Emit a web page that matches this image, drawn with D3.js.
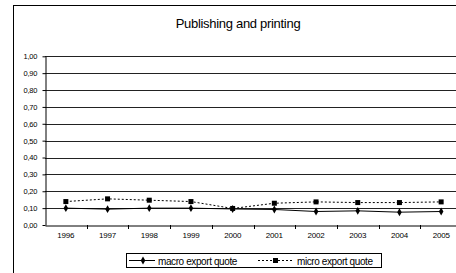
<!DOCTYPE html>
<html>
<head>
<meta charset="utf-8">
<script src="https://cdn.jsdelivr.net/npm/d3@7"></script>
<style>
  body { margin: 0; background: #fff; }
  svg { display: block; font-family: "Liberation Sans", Arial, sans-serif; }
</style>
</head>
<body>
<script>
//chart data
var years = ["1996","1997","1998","1999","2000","2001","2002","2003","2004","2005"];
var macroQuote = [0.100, 0.094, 0.100, 0.100, 0.095, 0.092, 0.080, 0.084, 0.076, 0.080];
var microQuote = [0.139, 0.155, 0.147, 0.139, 0.098, 0.129, 0.137, 0.133, 0.133, 0.137];
var yTicks = [0, 0.1, 0.2, 0.3, 0.4, 0.5, 0.6, 0.7, 0.8, 0.9, 1.0];
var seriesNames = ["macro export quote", "micro export quote"];

(function(){
    var width = 456, height = 273;

    var svg = d3.select("body").append("svg")
        .attr("width", width)
        .attr("height", height);

    //outer chart frame (runs off the right and bottom edge)
    svg.append("rect")
        .attr("x", 13.5).attr("y", 5.5)
        .attr("width", 500).attr("height", 300)
        .attr("fill", "#fff")
        .attr("stroke", "#000");

    //plot area
    var left = 45, right = 462, top = 56.3, bottom = 225;

    var x = d3.scaleBand().domain(years).range([left, right]);
    var y = d3.scaleLinear().domain([0, 1]).range([bottom, top]);

    var fmt = function(d){ return d3.format(".2f")(d).replace(".", ","); };

    //gridlines
    svg.selectAll(".grid")
        .data(yTicks.slice(1))
        .enter().append("line")
        .attr("x1", left).attr("x2", right)
        .attr("y1", function(d){ return Math.round(y(d)) + 0.5; })
        .attr("y2", function(d){ return Math.round(y(d)) + 0.5; })
        .attr("stroke", "#222");

    //y axis
    var yAxis = svg.append("g")
        .attr("transform", "translate(" + (left + 0.5) + ",0)")
        .call(d3.axisLeft(y).tickValues(yTicks).tickFormat(fmt).tickSize(3).tickSizeOuter(0));
    yAxis.selectAll("text").attr("font-size", 7.5).attr("fill", "#000")
        .attr("letter-spacing", -0.2).attr("dx", "-0.3em");
    yAxis.selectAll("line,path").attr("stroke", "#000");
    yAxis.attr("font-family", null);

    //x axis
    var xAxis = svg.append("g")
        .attr("transform", "translate(0," + (Math.round(bottom) + 0.5) + ")")
        .call(d3.axisBottom(x).tickSize(0).tickSizeOuter(0));
    xAxis.select(".domain").attr("stroke", "#000");
    xAxis.selectAll("text").attr("font-size", 8).attr("fill", "#000").attr("dy", "1.2em")
        .attr("letter-spacing", -0.2);
    xAxis.attr("font-family", null);

    //category tick marks between bands
    svg.selectAll(".xtick")
        .data(years)
        .enter().append("line")
        .attr("x1", function(d){ return Math.round(x(d) + x.bandwidth()) + 0.5; })
        .attr("x2", function(d){ return Math.round(x(d) + x.bandwidth()) + 0.5; })
        .attr("y1", Math.round(bottom))
        .attr("y2", Math.round(bottom) + 4)
        .attr("stroke", "#000");

    var cx = function(d, i){ return x(years[i]) + x.bandwidth() / 2; };
    var line = d3.line().x(cx).y(function(d){ return y(d); });

    //macro series
    svg.append("path")
        .datum(macroQuote)
        .attr("d", line)
        .attr("fill", "none")
        .attr("stroke", "#000")
        .attr("stroke-width", 1);
    svg.selectAll(".macro")
        .data(macroQuote)
        .enter().append("path")
        .attr("d", d3.symbol(d3.symbolDiamond, 18))
        .attr("transform", function(d, i){ return "translate(" + cx(d, i) + "," + y(d) + ")"; })
        .attr("fill", "#000");

    //micro series
    svg.append("path")
        .datum(microQuote)
        .attr("d", line)
        .attr("fill", "none")
        .attr("stroke", "#000")
        .attr("stroke-dasharray", "2,2");
    svg.selectAll(".micro")
        .data(microQuote)
        .enter().append("rect")
        .attr("x", function(d, i){ return cx(d, i) - 2.5; })
        .attr("y", function(d){ return y(d) - 2.5; })
        .attr("width", 5).attr("height", 5)
        .attr("fill", "#000");

    //title
    svg.append("text")
        .attr("x", 238).attr("y", 28)
        .attr("text-anchor", "middle")
        .attr("font-size", 13)
        .attr("letter-spacing", -0.3)
        .text("Publishing and printing");

    //legend
    var legend = svg.append("g");
    legend.append("rect")
        .attr("x", 126.5).attr("y", 253.5)
        .attr("width", 255).attr("height", 14)
        .attr("fill", "#fff").attr("stroke", "#000");
    legend.append("line")
        .attr("x1", 129).attr("x2", 155).attr("y1", 260.5).attr("y2", 260.5)
        .attr("stroke", "#000");
    legend.append("path")
        .attr("d", d3.symbol(d3.symbolDiamond, 18))
        .attr("transform", "translate(143,260.5)");
    legend.append("text")
        .attr("x", 158).attr("y", 264.5)
        .attr("font-size", 10)
        .attr("letter-spacing", -0.4)
        .text(seriesNames[0]);
    legend.append("line")
        .attr("x1", 258).attr("x2", 293).attr("y1", 260.5).attr("y2", 260.5)
        .attr("stroke", "#000").attr("stroke-dasharray", "2,2");
    legend.append("rect")
        .attr("x", 273).attr("y", 258).attr("width", 5).attr("height", 5);
    legend.append("text")
        .attr("x", 297).attr("y", 264.5)
        .attr("font-size", 10)
        .attr("letter-spacing", -0.4)
        .text(seriesNames[1]);
})();
</script>
</body>
</html>
